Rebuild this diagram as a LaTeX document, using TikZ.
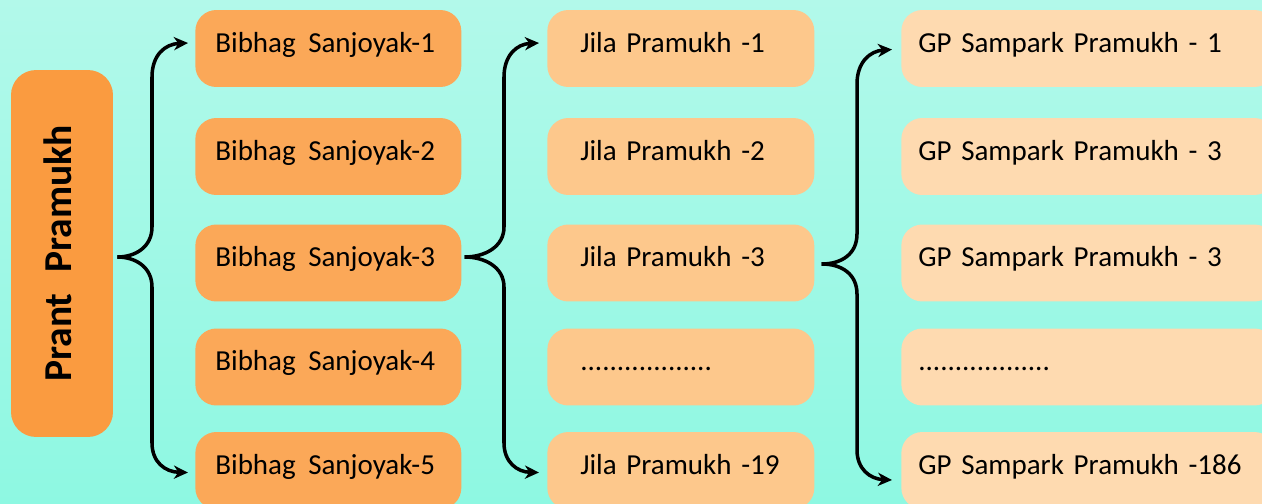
\documentclass[tikz,border=0pt]{standalone}
\usepackage{fontspec}
\setmainfont{Carlito}
\usetikzlibrary{arrows.meta,calc}
\definecolor{bgtop}{RGB}{178,249,234}
\definecolor{bgbot}{RGB}{142,248,226}
\definecolor{prantc}{RGB}{250,155,64}
\definecolor{bibc}{RGB}{251,168,88}
\definecolor{jilac}{RGB}{253,200,140}
\definecolor{gpc}{RGB}{254,218,176}
\begin{document}
\begin{tikzpicture}[x=0.02cm,y=-0.02cm,
  box/.style={rounded corners=0.42cm, draw=none, minimum height=1.54cm, inner ysep=0pt, align=left, font=\fontsize{16.5}{19}\selectfont, anchor=west, text height=8pt, text depth=3.7pt},
  bib/.style={box, fill=bibc, inner xsep=0.4cm, text width=4.52cm},
  jila/.style={box, fill=jilac, inner xsep=0.66cm, text width=4.02cm},
  gp/.style={box, fill=gpc, inner xsep=0.34cm, text width=6.8cm},
  brace/.style={line width=2pt, -{Stealth[length=8pt,width=7.5pt,inset=2.5pt]}}
]
\useasboundingbox (0,0) rectangle (1262,504);
\clip (0,0) rectangle (1262,504);
\shade[top color=bgtop, bottom color=bgbot] (0,0) rectangle (1262,504);

\node[rounded corners=0.5cm, fill=prantc, rotate=90, minimum width=7.34cm, minimum height=2.04cm, inner sep=0pt, text height=15pt, text depth=4pt, font=\fontsize{22.5}{26}\bfseries] (prant) at (62,253.5) {Prant\hspace{0.3em} Pramukh};

\foreach \i/\y in {1/48.5,2/156.5,3/263,4/367,5/470.5}{
  \node[bib] (b\i) at (195,\y) {Bibhag\hspace{0.1em} Sanjoyak-\i};
}
\node[jila] (j1) at (547,48.5) {Jila Pramukh -1};
\node[jila] (j2) at (547,156.5) {Jila Pramukh -2};
\node[jila] (j3) at (547,263) {Jila Pramukh -3};
\node[jila] (j4) at (547,367) {..................};
\node[jila] (j5) at (547,470.5) {Jila Pramukh -19};

\node[gp] (g1) at (901,48.5) {GP Sampark Pramukh - 1};
\node[gp] (g2) at (901,156.5) {GP Sampark Pramukh - 3};
\node[gp] (g3) at (901,263) {GP Sampark Pramukh - 3};
\node[gp] (g4) at (901,367) {..................};
\node[gp] (g5) at (901,470.5) {GP Sampark Pramukh -186};

% brace 1
\coordinate (t1) at ($(prant.south)+(4,3.5)$);
\draw[brace] (t1) .. controls +(18,0) and (152,247) .. (152,227) -- (152,77)
  .. controls (152,55) and (165,44) .. ($(b1.west)+(-7,-5.5)$);
\draw[brace] (t1) .. controls +(18,0) and (152,267) .. (152,287) -- (152,443)
  .. controls (152,462) and (165,472) .. ($(b5.west)+(-7,2)$);
% brace 2
\coordinate (t2) at ($(b3.east)+(3,-6)$);
\draw[brace] (t2) .. controls +(20,0) and (504,247) .. (504,227) -- (504,77)
  .. controls (504,55) and (517,44) .. ($(j1.west)+(-8,-5.5)$);
\draw[brace] (t2) .. controls +(20,0) and (504,267) .. (504,287) -- (504,443)
  .. controls (504,462) and (517,472) .. ($(j5.west)+(-8,2)$);
% brace 3
\coordinate (t3) at ($(j3.east)+(7,1)$);
\draw[brace] (t3) .. controls +(20,0) and (857,254) .. (857,234) -- (857,84)
  .. controls (857,62) and (870,51) .. ($(g1.west)+(-9,1)$);
\draw[brace] (t3) .. controls +(20,0) and (857,274) .. (857,294) -- (857,450)
  .. controls (857,469) and (870,479) .. ($(g5.west)+(-9,9.5)$);
\end{tikzpicture}
\end{document}
